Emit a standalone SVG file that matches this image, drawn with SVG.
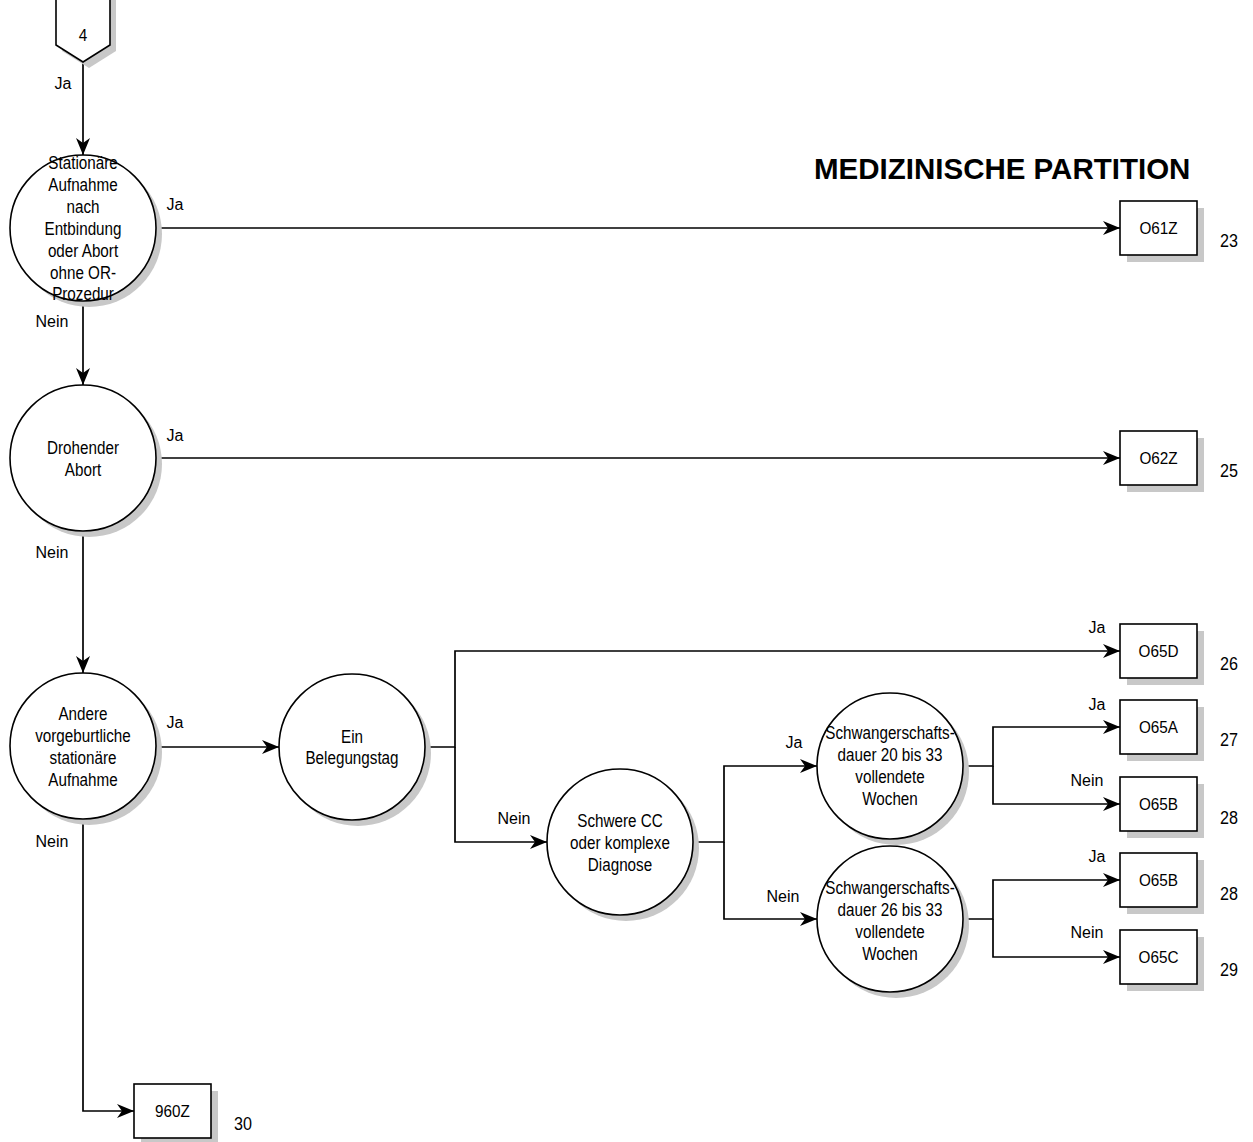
<svg xmlns="http://www.w3.org/2000/svg" width="1253" height="1142" viewBox="0 0 1253 1142">
<defs>
<marker id="arr" markerWidth="18" markerHeight="14" refX="17" refY="7" orient="auto" markerUnits="userSpaceOnUse">
<path d="M0,0 L17,7 L0,14 L5,7 z" fill="#000"/>
</marker>
</defs>
<style>
.bg{fill:#fff}
.sh{fill:#c8c8c8;stroke:none}
.nd{fill:#fff;stroke:#000;stroke-width:1.6}
.cn{fill:none;stroke:#000;stroke-width:1.7}
text{font-family:"Liberation Sans",Arial,sans-serif;fill:#000}
.t{font-size:17.5px;text-anchor:middle}
.b{font-size:17px;text-anchor:middle}
.l{font-size:16px;text-anchor:middle}
.n{font-size:19px;text-anchor:middle}
.title{font-size:29.5px;font-weight:bold}
</style>
<rect class="bg" x="0" y="0" width="1253" height="1142"/>
<text class="title" x="814" y="179">MEDIZINISCHE PARTITION</text>

<g id="connectors">
<path class="cn" d="M83,62 V155" marker-end="url(#arr)"/>
<path class="cn" d="M156,228 H1120" marker-end="url(#arr)"/>
<path class="cn" d="M83,301 V385" marker-end="url(#arr)"/>
<path class="cn" d="M156,458 H1120" marker-end="url(#arr)"/>
<path class="cn" d="M83,531 V673" marker-end="url(#arr)"/>
<path class="cn" d="M156,747 H279" marker-end="url(#arr)"/>
<path class="cn" d="M425,747 H455 V651 H1120" marker-end="url(#arr)"/>
<path class="cn" d="M455,747 V842 H547" marker-end="url(#arr)"/>
<path class="cn" d="M693,842 H724 V766 H817" marker-end="url(#arr)"/>
<path class="cn" d="M724,842 V919 H817" marker-end="url(#arr)"/>
<path class="cn" d="M963,766 H993 V727 H1120" marker-end="url(#arr)"/>
<path class="cn" d="M993,766 V804 H1120" marker-end="url(#arr)"/>
<path class="cn" d="M963,919 H993 V880 H1120" marker-end="url(#arr)"/>
<path class="cn" d="M993,919 V957 H1120" marker-end="url(#arr)"/>
<path class="cn" d="M83,819 V1111 H134" marker-end="url(#arr)"/>
<text class="l" x="63" y="89">Ja</text>
<text class="l" x="175" y="210">Ja</text>
<text class="l" x="52" y="327">Nein</text>
<text class="l" x="175" y="441">Ja</text>
<text class="l" x="52" y="558">Nein</text>
<text class="l" x="175" y="728">Ja</text>
<text class="l" x="52" y="847">Nein</text>
<text class="l" x="1097" y="633">Ja</text>
<text class="l" x="514" y="824">Nein</text>
<text class="l" x="794" y="748">Ja</text>
<text class="l" x="783" y="902">Nein</text>
<text class="l" x="1097" y="710">Ja</text>
<text class="l" x="1087" y="786">Nein</text>
<text class="l" x="1097" y="862">Ja</text>
<text class="l" x="1087" y="938">Nein</text>
</g>

<g id="offpage4">
<polygon class="sh" points="62,-2 116,-2 116,51 89,68 62,51"/>
<polygon class="nd" points="56,-2 110,-2 110,45 83,62 56,45"/>
<text class="b" transform="translate(83,41) scale(0.9,1)">4</text>
</g>

<g id="q1">
<circle class="sh" cx="89" cy="234" r="73"/>
<circle class="nd" cx="83" cy="228" r="73"/>
<text class="t" transform="translate(83,169) scale(0.87,1)">Stationäre</text>
<text class="t" transform="translate(83,191) scale(0.87,1)">Aufnahme</text>
<text class="t" transform="translate(83,213) scale(0.87,1)">nach</text>
<text class="t" transform="translate(83,235) scale(0.87,1)">Entbindung</text>
<text class="t" transform="translate(83,257) scale(0.87,1)">oder Abort</text>
<text class="t" transform="translate(83,279) scale(0.87,1)">ohne OR-</text>
<text class="t" transform="translate(83,300) scale(0.87,1)">Prozedur</text>
</g>

<g id="q2">
<circle class="sh" cx="89" cy="464" r="73"/>
<circle class="nd" cx="83" cy="458" r="73"/>
<text class="t" transform="translate(83,454) scale(0.87,1)">Drohender</text>
<text class="t" transform="translate(83,476) scale(0.87,1)">Abort</text>
</g>

<g id="q3">
<circle class="sh" cx="89" cy="752" r="73"/>
<circle class="nd" cx="83" cy="746" r="73"/>
<text class="t" transform="translate(83,720) scale(0.87,1)">Andere</text>
<text class="t" transform="translate(83,742) scale(0.87,1)">vorgeburtliche</text>
<text class="t" transform="translate(83,764) scale(0.87,1)">stationäre</text>
<text class="t" transform="translate(83,786) scale(0.87,1)">Aufnahme</text>
</g>

<g id="q4">
<circle class="sh" cx="358" cy="753" r="73"/>
<circle class="nd" cx="352" cy="747" r="73"/>
<text class="t" transform="translate(352,743) scale(0.87,1)">Ein</text>
<text class="t" transform="translate(352,764) scale(0.87,1)">Belegungstag</text>
</g>

<g id="q5">
<circle class="sh" cx="626" cy="848" r="73"/>
<circle class="nd" cx="620" cy="842" r="73"/>
<text class="t" transform="translate(620,827) scale(0.87,1)">Schwere CC</text>
<text class="t" transform="translate(620,849) scale(0.87,1)">oder komplexe</text>
<text class="t" transform="translate(620,871) scale(0.87,1)">Diagnose</text>
</g>

<g id="q6">
<circle class="sh" cx="896" cy="772" r="73"/>
<circle class="nd" cx="890" cy="766" r="73"/>
<text class="t" transform="translate(890,739) scale(0.87,1)">Schwangerschafts-</text>
<text class="t" transform="translate(890,761) scale(0.87,1)">dauer 20 bis 33</text>
<text class="t" transform="translate(890,783) scale(0.87,1)">vollendete</text>
<text class="t" transform="translate(890,805) scale(0.87,1)">Wochen</text>
</g>

<g id="q7">
<circle class="sh" cx="896" cy="925" r="73"/>
<circle class="nd" cx="890" cy="919" r="73"/>
<text class="t" transform="translate(890,894) scale(0.87,1)">Schwangerschafts-</text>
<text class="t" transform="translate(890,916) scale(0.87,1)">dauer 26 bis 33</text>
<text class="t" transform="translate(890,938) scale(0.87,1)">vollendete</text>
<text class="t" transform="translate(890,960) scale(0.87,1)">Wochen</text>
</g>

<g id="r_O61Z">
<rect class="sh" x="1127" y="208" width="77" height="54"/>
<rect class="nd" x="1120" y="201" width="77" height="54"/>
<text class="b" transform="translate(1158.5,234) scale(0.9,1)">O61Z</text>
<text class="n" transform="translate(1229,247) scale(0.85,1)">23</text>
</g>
<g id="r_O62Z">
<rect class="sh" x="1127" y="438" width="77" height="54"/>
<rect class="nd" x="1120" y="431" width="77" height="54"/>
<text class="b" transform="translate(1158.5,464) scale(0.9,1)">O62Z</text>
<text class="n" transform="translate(1229,477) scale(0.85,1)">25</text>
</g>
<g id="r_O65D">
<rect class="sh" x="1127" y="631" width="77" height="54"/>
<rect class="nd" x="1120" y="624" width="77" height="54"/>
<text class="b" transform="translate(1158.5,657) scale(0.9,1)">O65D</text>
<text class="n" transform="translate(1229,670) scale(0.85,1)">26</text>
</g>
<g id="r_O65A">
<rect class="sh" x="1127" y="707" width="77" height="54"/>
<rect class="nd" x="1120" y="700" width="77" height="54"/>
<text class="b" transform="translate(1158.5,733) scale(0.9,1)">O65A</text>
<text class="n" transform="translate(1229,746) scale(0.85,1)">27</text>
</g>
<g id="r_O65B_1">
<rect class="sh" x="1127" y="784" width="77" height="54"/>
<rect class="nd" x="1120" y="777" width="77" height="54"/>
<text class="b" transform="translate(1158.5,810) scale(0.9,1)">O65B</text>
<text class="n" transform="translate(1229,824) scale(0.85,1)">28</text>
</g>
<g id="r_O65B_2">
<rect class="sh" x="1127" y="860" width="77" height="54"/>
<rect class="nd" x="1120" y="853" width="77" height="54"/>
<text class="b" transform="translate(1158.5,886) scale(0.9,1)">O65B</text>
<text class="n" transform="translate(1229,900) scale(0.85,1)">28</text>
</g>
<g id="r_O65C">
<rect class="sh" x="1127" y="937" width="77" height="54"/>
<rect class="nd" x="1120" y="930" width="77" height="54"/>
<text class="b" transform="translate(1158.5,963) scale(0.9,1)">O65C</text>
<text class="n" transform="translate(1229,976) scale(0.85,1)">29</text>
</g>
<g id="r_960Z">
<rect class="sh" x="141" y="1091" width="77" height="54"/>
<rect class="nd" x="134" y="1084" width="77" height="54"/>
<text class="b" transform="translate(172.5,1117) scale(0.9,1)">960Z</text>
<text class="n" transform="translate(243,1130) scale(0.85,1)">30</text>
</g>
</svg>
